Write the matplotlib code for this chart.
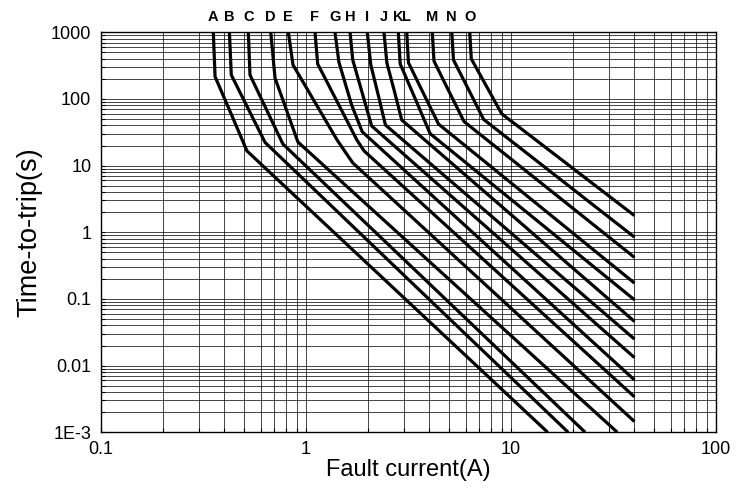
import numpy as np
import matplotlib.pyplot as plt
from matplotlib.ticker import LogLocator, FixedLocator, FixedFormatter, NullFormatter

plt.rcParams['font.family'] = ['Liberation Sans', 'DejaVu Sans']

# Curve letters and the current where each curve leaves the top of the chart
names = list('ABCDEFGHIJKLMNO')
i_top = [0.353, 0.423, 0.523, 0.673, 0.820, 1.106, 1.385, 1.64, 1.99, 2.40, 2.82, 3.10, 4.13, 5.14, 6.29]

# End of the near-vertical part
i_vert = [0.360, 0.432, 0.533, 0.706, 0.864, 1.14, 1.446, 1.69, 2.07, 2.48, 2.88, 3.16, 4.21, 5.24, 6.40]
t_vert = [216, 229, 229, 206, 324, 335, 359, 385, 324, 347, 335, 350, 370, 385, 400]

# Bend point on the way down
i_mid = [0.431, 0.522, 0.641, 0.803, 1.417, 1.77, 1.67, 1.88, 2.25, 2.70, 3.41, 3.74, 4.98, 6.21, 7.59]
t_mid = [59.9, 71.5, 69.5, 68.2, 24.3, 24.3, 81.0, 123, 115, 129.6, 100.6, 121, 130, 137.8, 155]

# Knee where the final straight part starts
i_knee = [0.515, 0.631, 0.771, 0.913, 1.69, 1.92, 1.88, 2.09, 2.44, 2.93, 4.03, 4.43, 5.90, 7.35, 9.0]
t_knee = [16.6, 22.3, 21.1, 22.6, 11.0, 16.6, 32.2, 39.4, 40.7, 48.4, 30.2, 42.0, 45.8, 49.3, 60.0]

# Last point of each curve
i_end = [15.1, 19.0, 23.0, 33.0, 40, 40, 40, 40, 40, 40, 40, 40, 40, 40, 40]
t_end = [0.001, 0.001, 0.001, 0.001, 0.00145, 0.0034, 0.0061, 0.0132, 0.025, 0.046,
         0.097, 0.173, 0.42, 0.845, 1.78]

fig = plt.figure(figsize=(7.39, 4.99), dpi=100)
ax = fig.add_axes([0.1367, 0.1337, 0.8322, 0.8016])

for k in range(len(names)):
    xs = [i_top[k], i_vert[k], i_mid[k], i_knee[k], i_end[k]]
    ys = [1000, t_vert[k], t_mid[k], t_knee[k], t_end[k]]
    ax.plot(xs, ys, color='black', lw=2.3, solid_joinstyle='round', solid_capstyle='butt', zorder=3)
    ax.text(i_top[k], 1.02, names[k], transform=ax.get_xaxis_transform(),
            ha='center', va='bottom', fontsize=10.5, fontweight='bold')

ax.set_xscale('log')
ax.set_yscale('log')
ax.set_xlim(0.1, 100)
ax.set_ylim(0.001, 1000)

ax.xaxis.set_major_locator(FixedLocator([0.1, 1, 10, 100]))
ax.xaxis.set_major_formatter(FixedFormatter(['0.1', '1', '10', '100']))
ax.yaxis.set_major_locator(FixedLocator([0.001, 0.01, 0.1, 1, 10, 100, 1000]))
ax.yaxis.set_major_formatter(FixedFormatter(['1E-3', '0.01', '0.1', '1', '10', '100', '1000']))
ax.xaxis.set_minor_locator(LogLocator(base=10, subs=np.arange(2, 10), numticks=20))
ax.yaxis.set_minor_locator(LogLocator(base=10, subs=np.arange(2, 10), numticks=20))
ax.xaxis.set_minor_formatter(NullFormatter())
ax.yaxis.set_minor_formatter(NullFormatter())

ax.grid(True, which='both', color='black', lw=0.6, alpha=0.85)
ax.tick_params(which='both', direction='in', length=3, width=0.8, labelsize=13)
ax.tick_params(axis='y', pad=7)
ax.tick_params(axis='x', pad=6)
for sp in ax.spines.values():
    sp.set_linewidth(1.0)

ax.set_xlabel('Fault current(A)', fontsize=17, labelpad=1)
ax.set_ylabel('Time-to-trip(s)', fontsize=19.5, labelpad=6)

fig.savefig('out.png', dpi=100)
